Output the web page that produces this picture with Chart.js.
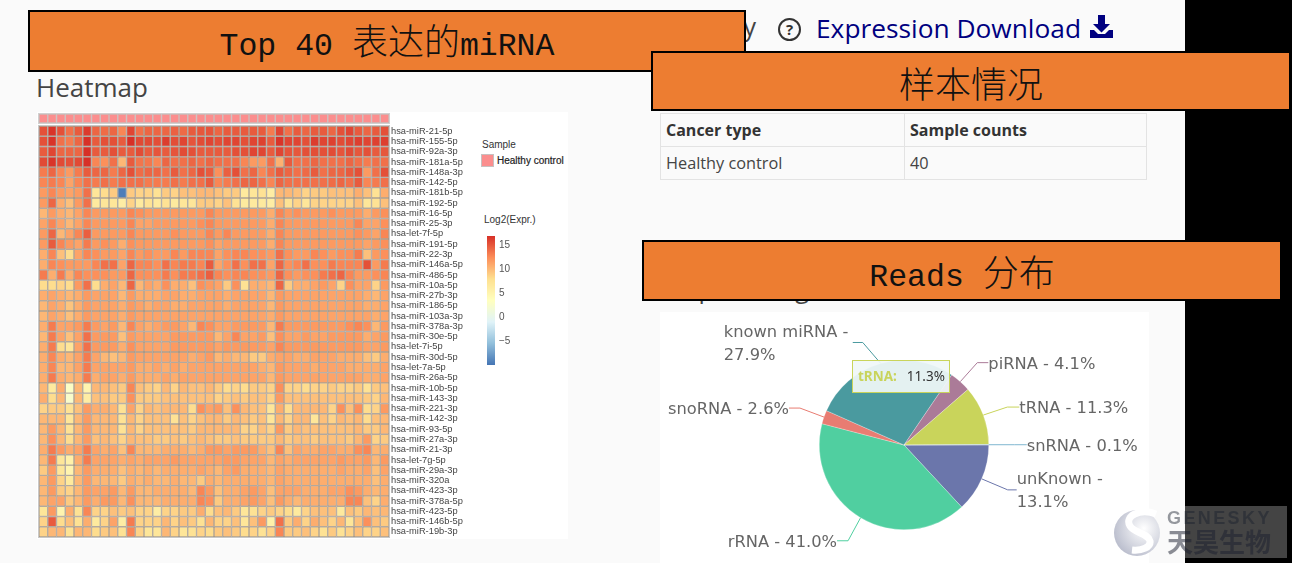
<!DOCTYPE html>
<html>
<head>
<meta charset="utf-8">
<script src="https://cdn.jsdelivr.net/npm/chart.js@4"></script>
<style>
  html, body { margin: 0; padding: 0; }
  body { width: 1292px; height: 563px; position: relative; overflow: hidden; background: #000; font-family: "Open Sans", sans-serif; }
  .abs { position: absolute; }
  #page { left: 0; top: 0; width: 1185px; height: 563px; background: #fafafa; }
  .banner { position: absolute; box-sizing: border-box; background: #ed7d31; border: 2px solid #000; color: #111; text-align: center; font-family: "Liberation Mono", "Noto Sans CJK SC", monospace; font-size: 31.5px; }
  .banner span { font-family: "Noto Sans CJK SC", sans-serif; font-size: 36px; font-weight: 300; }
  table { border-collapse: collapse; font-size: 16.3px; color: #444; table-layout: fixed; }
  td, th { border: 1px solid #e3e3e3; height: 33px; padding: 0 5px; text-align: left; box-sizing: border-box; }
  th { color: #333; font-size: 16px; }
  canvas { display: block; }
  #tip { left: 852px; top: 360px; width: 98px; height: 33px; box-sizing: border-box; background: rgba(240,247,247,.93); border: 1.5px solid #c9d45b; font: 13.5px "Noto Sans", sans-serif; line-height: 30px; padding-left: 5px; color: #333; white-space: pre; }
  #tip b { color: #c9d45b; margin-right: 3px; }
</style>
</head>
<body>
<div class="abs" id="page"></div>

<div class="abs" style="right:536px;top:9px;font-size:25px;color:#444">Summary</div>
<div class="abs" style="left:778px;top:18px;width:19px;height:19px;border:2px solid #333;border-radius:50%;text-align:center;font:bold 15px/19px 'Open Sans';color:#333">?</div>
<div class="abs" style="left:816px;top:10px;font-size:26.3px;color:#000080;white-space:nowrap">Expression Download</div>
<svg class="abs" style="left:1089px;top:15px" width="25" height="24" viewBox="0 0 25 24">
  <path d="M9 0h7v9h5l-8.500 8.500L4 9h5z M1 15h4l4 4h7l4-4h4v8H1z" fill="#000080"/>
</svg>
<div class="abs" style="left:36px;top:69px;font-size:26px;color:#444">Heatmap</div>
<div class="abs" style="left:662px;top:271px;font-size:25px;color:#444">Map reading</div>

<div class="abs" style="left:37px;top:112px;width:531px;height:427px;background:#fff"></div>
<div class="abs" style="left:660px;top:312px;width:489px;height:251px;background:#fff"></div>

<div class="abs" style="left:38px;top:113px;width:352px;height:11px;background:#d0d0d0"></div>
<div class="abs" style="left:38px;top:125px;width:352px;height:413px;background:#c8c8c8"></div>
<canvas class="abs" id="sampleBar" style="left:39px;top:114px;filter:blur(.4px)"></canvas>
<canvas class="abs" id="heatmap" style="left:39px;top:126px;filter:blur(.4px)"></canvas>
<div class="abs" style="left:482px;top:139px;font:10px 'Liberation Sans';color:#333">Sample</div>
<div class="abs" style="left:481px;top:154px;width:13px;height:13px;background:#fb8e8e;box-sizing:border-box;border:1px solid #c8c0c0"></div>
<div class="abs" style="left:497px;top:155px;font:10px 'Liberation Sans';color:#222;-webkit-text-stroke:.2px #222;white-space:nowrap">Healthy control</div>
<div class="abs" style="left:484px;top:214px;font:10px 'Liberation Sans';color:#333">Log2(Expr.)</div>
<canvas class="abs" id="colorBar" style="left:487px;top:226px;filter:blur(.3px)"></canvas>

<table class="abs" style="left:660px;top:113px;width:487px">
  <tr><th style="width:244px" id="hType"></th><th id="hCount"></th></tr>
  <tr><td id="cType"></td><td id="cCount"></td></tr>
</table>

<canvas class="abs" id="pie" style="left:660px;top:312px;filter:blur(.3px)"></canvas>
<div class="abs" id="tip"></div>

<div class="banner" style="left:28px;top:10px;width:718px;height:62px;line-height:55px">Top 40 <span>表达的</span>miRNA</div>
<div class="banner" style="left:651px;top:51px;width:640px;height:60px;line-height:58px"><span>样本情况</span></div>
<div class="banner" style="left:642px;top:240px;width:640px;height:61px;line-height:56px">Reads <span>分布</span></div>

<div class="abs" style="left:1185px;top:506px;width:102px;height:52px;background:#444"></div>
<svg class="abs" style="left:1112px;top:506px" width="52" height="52" viewBox="0 0 52 52">
  <defs><radialGradient id="ball" cx=".65" cy=".4" r=".8"><stop offset="0" stop-color="#fff"/><stop offset="1" stop-color="#aeb2c4"/></radialGradient></defs>
  <circle cx="25" cy="27" r="23" fill="url(#ball)"/>
  <path d="M44 8C28 2 12 10 18 20c4 7 18 7 20 15 1 6-8 10-18 9" fill="none" stroke="#fff" stroke-width="7"/>
</svg>
<div class="abs" style="left:1167px;top:507px;font:bold 18px/22px 'Liberation Sans';letter-spacing:2.4px;color:rgba(25,30,45,.45);white-space:nowrap">GENESKY</div>
<div class="abs" style="left:1167px;top:525px;font:700 26px/32px 'Noto Sans CJK SC';color:rgba(25,30,45,.5);white-space:nowrap">天昊生物</div>

<script>
const miRNAs = ['hsa-miR-21-5p','hsa-miR-155-5p','hsa-miR-92a-3p','hsa-miR-181a-5p','hsa-miR-148a-3p','hsa-miR-142-5p','hsa-miR-181b-5p','hsa-miR-192-5p','hsa-miR-16-5p','hsa-miR-25-3p',
  'hsa-let-7f-5p','hsa-miR-191-5p','hsa-miR-22-3p','hsa-miR-146a-5p','hsa-miR-486-5p','hsa-miR-10a-5p','hsa-miR-27b-3p','hsa-miR-186-5p','hsa-miR-103a-3p','hsa-miR-378a-3p',
  'hsa-miR-30e-5p','hsa-let-7i-5p','hsa-miR-30d-5p','hsa-let-7a-5p','hsa-miR-26a-5p','hsa-miR-10b-5p','hsa-miR-143-3p','hsa-miR-221-3p','hsa-miR-142-3p','hsa-miR-93-5p',
  'hsa-miR-27a-3p','hsa-miR-21-3p','hsa-let-7g-5p','hsa-miR-29a-3p','hsa-miR-320a','hsa-miR-423-3p','hsa-miR-378a-5p','hsa-miR-423-5p','hsa-miR-146b-5p','hsa-miR-19b-3p'];

// log2 expression, one row per miRNA, one column per sample
const exprRows = [
  [14.5,15.8,14.5,13,14,15.5,13.5,13.2,13.5,12,15,13,13.5,13.5,13.5,13.7,13.3,14,14.2,14.3,13.5,14, 14,14,14,14,12.5,15,13,14,13.5,14,14,13.5,14.5,15,14,13.5,14,14.5],
  [14.5,15.8,13,12.5,13.5,16,14,14.5,14.5,14,16,14.8,14.8,14.6,15.4,14.6,15,14.3,14.7,15,14.6,15, 15,14.5,15,15.2,14,15.8,15,15,14.5,15.4,15,15.2,14.7,15,15.3,15,15.2,15.3],
  [14,15,13.5,13.5,13.5,16,14,14,14.5,14,14,14.7,14,14.3,14,14.3,14.7,14.5,14,14,14,14, 14.5,14.5,15,15,14,15,14.3,14.2,14.5,14.6,14.5,14.7,14.3,14.8,14.2,14.5,14,14.2],
  [14.8,15.8,14.8,14.5,14.8,16.2,12,11.5,13,9.5,14,12.8,12.7,12,13.5,13,13,13.5,13,13.5,13,13, 13,12,11,11,13,9.8,14,13,13,13.5,13,13,13,13.5,13,12.5,13,13],
  [12.5,13.5,12,11,12.5,14,13.5,13.5,12.5,13.5,14.5,13.2,13.5,13.5,13,14,13,13.5,14.5,14,11.5,13.8, 14.5,13,13.5,12,13,14,13.5,13,13.3,14,13,13.5,13.5,14,14.5,11,13,14.5],
  [12,12.5,12,10.5,12,13,12.5,13,12.5,13,13,13,12.5,12.5,12.5,13,12.5,13,13,14,12,12.5, 13,13.5,13.5,13,12,13.5,13,13,13,13,13,13.2,13.5,13,14,12,12.5,13],
  [11,12,11,10.5,11,13,6.5,7.5,8.5,-9.5,8.5,8,8,7,8.5,8,9,9,9.5,9.5,9,8.5, 8.5,6,6.5,7,5.5,9.5,9.5,9,8,8.5,8.5,9,9,9,10,9,7,10],
  [11,13.5,10,9,11,13,6,6.5,6.5,5.5,8,6,7,6,7,6,6.5,6.5,8.5,8.5,8,9, 7,6,6,6,5.5,9,7,8,6.5,8,8,8,8,8,9,6.5,7,9],
  [9.5,11,10,9.5,10.5,12,11,11,11,11,12,11.5,11,11,11,11,11,11,11,12,11,11, 11,11,11,11,10,12,11,11.5,11,11,11,11.5,11,11,11,10,11,11.5],
  [10.5,12,10.5,9.5,10.5,12,11,11,11,11,12,10.5,10.5,11,11,11,11,11,11.5,12,11,11, 11,11,11,11,10,12,11,11,11,11,11,11,11,11,12,10.5,10.5,11.5],
  [11,13.5,9.5,10.5,12,13.8,11,11,11,11,12,11,11,11,11,11.5,11,11,11,12,11,12, 11,11,11,11,10,12,11,11,11,11,11,11,11,11,11.5,11,10.5,12],
  [11,14,12,11,10.5,12.5,11,11.5,11,10,11.5,11,11,11,11,11,11,11,11,11.5,10.5,11, 11,11,11,11,10,12,11,11,11,11,11,11,11,11,11,10.5,11,11.5],
  [10,12,9,7.5,10.5,12,11.5,11,11,10.5,12,11,11.5,11,11,12,11,12,12,12,10.5,11.5, 12,12,11.5,11.5,11,13,11.5,11,11,12,11.5,11,11.5,11.5,12.5,9,11,11.5],
  [10,12,11.5,11,11,11,12,13,13,10.5,13.5,12,12,11.5,13,12,12.5,12.5,12,14,10.5,11.5, 13,11.5,13,13,10.5,13.5,11.5,12,13,11.5,11.5,12.5,12,12,12,14.5,11,12.5],
  [12.5,10,12.5,10,12,11.5,11.5,11.5,11,11,13.5,11.5,11.5,11.5,12.5,11.5,12.5,12.5,13,13.8,12,11.5, 12,12,11.5,11.5,11,13.5,11.5,11,11.5,11.5,12.5,13,13.5,12,11,11,11.5,12],
  [7.5,7.5,8,7.5,11,13,7.5,10,10.5,9.5,13.5,9.5,10.5,10,11.5,10,10,9,11.5,11,10.5,8.5, 11.5,7,10,10,9.5,13.5,8.5,10,10,10.5,11,10.5,8,11.5,10.5,10.5,8,11],
  [10,10.5,10,9.5,10,11,10.5,10.5,10.5,9.5,11,10,10,10,10.5,10.5,10,10,10.5,10.5,10.5,10, 10.5,10.5,10.5,10.5,9.5,11,10.5,10.5,10.5,10.5,10.5,10.5,10.5,10.5,10.5,10,9.5,10.5],
  [9.5,10.5,10,8.8,10,11,10.5,10.5,10.5,10,11,10.5,10,10.5,10.5,10,10,10.5,10.5,10.5,10.5,10, 10.5,10.5,10.5,10.5,9.5,11,10.5,10.5,10.5,10.5,10.5,10.5,10.5,10.5,10.5,10,10,10.5],
  [9.5,10.5,10,9,10,11,10.5,10.5,10.5,10,11,10.5,10.5,10.5,10.5,10.5,10.5,10.5,10.5,10.5,10.5,10.5, 10.5,10.5,10.5,10.5,10,11,10.5,10.5,10.5,10.5,10.5,10.5,10.5,10.5,10.5,10.5,10,10.5],
  [10,12.5,10.5,10.5,11,12.5,11,10.5,11,9.5,12,10.5,10,10.5,11,11,10.5,9.5,12,11.5,10.5,10.5, 11,11,11,11,9.5,12.5,11,11,11,11,11,11,11,11.5,12,11.5,9.5,11],
  [9.5,12.5,10.5,9,10.5,13,11,11,11,9,11,10.5,10.5,10.5,10.5,11,11,11,11,11,9.5,10.5, 12,10.5,10.5,11,9,11.5,10.5,10.5,11,10.5,10.5,11,11,11,11,10,10.5,11],
  [10,12.5,7.5,6.5,10.5,13,11,11,11,10,11.5,10.5,10.5,10.5,10.5,11,11,11,11,11,10.5,11, 11,11,11,11,10.5,12,11,11,11,11,11,11,11,11,11,10.5,10.5,11],
  [10,12,10,9.5,10.5,12.5,10.5,9.5,9,9.5,11,10.5,10.5,10.5,10.5,10.5,10.5,10,10.5,11,9.5,10, 9.5,9.5,8.5,8.5,10,10.5,10.5,10,10,10.5,10.5,10.5,10,10,10,9,8.5,10],
  [10,12,9.5,9.5,10.5,12.5,10.5,10.5,10.5,10.5,11,10,10,10.5,10,10.5,10,10.5,10.5,10.5,10.5,10.5, 10.5,10.5,10.5,10,9.5,11,10.5,10.5,10.5,10,10.5,10.5,10.5,10,10,10,10,10.5],
  [10,12.5,10,9.5,10,12.5,10,10.5,10.5,10,11,10,10,10,10.5,10,10.5,10.5,10.5,10.5,10.5,10.5, 10.5,10.5,10.5,10.5,9.5,11,10.5,10.5,10.5,10.5,10.5,10.5,10.5,10.5,10.5,10,10,10.5],
  [9.5,6,10,2.5,9.5,4.5,9.5,9.5,9,8.5,12,9,8.5,8,9.5,8,9.5,9,9,9.5,8.5,7.5, 8,7.5,8.5,8.5,8,11.5,8,8,7.5,8,8,8.5,8,8,8.5,7,8.5,9],
  [10,7.5,9.5,2,9.5,5.5,9,9,8.5,8.5,11.5,8.5,8.5,8.5,9,9,9,9,9,9,8,8.5, 9,8.5,9,9,8,11,9,9,9,9,9,9,9,9,9,8.5,8,9.5],
  [8,8.5,8.5,7,9,11,10,10,9.5,7,10.5,8,9.5,9,9.5,9.5,9.5,7.5,11.5,10.5,11,9, 11.5,9.5,9,9,6.5,10,7.5,9.5,9.5,9.5,9.5,8,11.5,9,11.5,7.5,8,11],
  [9.5,9.5,9.5,6.5,9.5,11,9.5,9.5,9.5,7,9.5,8,9,9,9,7,9,8,9,9.5,9.5,8.5, 9.5,9,8.5,9,6.5,9.5,8,9.5,9.5,6.5,9,8,9.5,9,9.5,7.5,9,9.5],
  [9.5,11,9.5,7,9.5,11,9.5,9.5,9.5,7,9.5,8,9,9,9,9,9,8.5,9.5,9.5,9.5,9.5, 9.5,8,8,9,8,11,8.5,9.5,9,9,9,9,9,9,9.5,8.5,8.5,9.5],
  [9.5,11.5,9.5,7.5,9.5,11,9,9.5,9,8,9.5,9,9,8.5,8.5,9,8.5,9,9.5,9,8.5,8.5, 9,8.5,8.5,8.5,8.5,9.5,8.5,9,9,8.5,9,9,9,8.5,9.5,11,8,8.5],
  [10,12.5,11,10,10.5,12.5,10.5,10,10.5,9,12,9.5,9.5,9.5,10,10,10,9.5,10,11,11,10.5, 11,11,11,10,9,12,9,10.5,10,10,10.5,10.5,10,10,11.5,12,9.5,10],
  [9.5,12.5,6.5,5,10,12.5,10.5,10.5,10.5,10,10.5,10,10.5,10.5,10.5,11,10.5,10.5,10.5,10.5,10.5,11, 11,10.5,10.5,10.5,9.5,10.5,10,10.5,10.5,10.5,10.5,10.5,11,10.5,10.5,11,9.5,11],
  [8.5,11,6.5,4.5,9.5,11,10,10,10,9,10,9.5,10,9.5,10,10,10,10,10.5,10,9.5,10.5, 11,10,10,10,9.5,10.5,10,10,10,10,10,10,10.5,10,10,10.5,9,10.5],
  [9.5,11,8,6,9.5,11,9.5,9.5,9.5,8.5,10,9.5,10,9.5,9.5,10,9.5,9.5,8.5,10,9.5,10, 10,10,10,10,9.5,10.5,10,10,10,10,10,10,10,10,10,10,9,10],
  [9.5,11,8.5,8,9.5,11,10.5,10.5,11,9.5,11,9.5,9.5,10,10,10,10,9.5,12,11,9,10, 10,10.5,11,10.5,9,10.5,10.5,10.5,10,10,10,10.5,10.5,11.5,11,10,9.5,10],
  [9.5,10.5,10.5,8.5,9.5,11,10,11,11,9.5,11.5,9.5,9.5,9.5,10,10,10,10,12,11.5,8.5,10, 10,10.5,11,10.5,9,11,10,9.5,10,10,10,10,10,12,12,9,8,10],
  [6.5,11,4.5,10,7,12,8,8,9,8.5,9,8,8,5.5,8,8,8.5,8.5,10,7.5,9,9.5, 8.5,6.5,7,8,8.5,8,7.5,6,8,9,9,9,6,9,8.5,9.5,9,9.5],
  [8,14,7.5,9,7,10,6,8,10.5,5.5,12.5,8,8,8,9.5,8,9,8.5,7,9.5,8,8, 9,6.5,9,11,5,13,8.5,10,8,10,9,8,9.5,6.5,9,11.5,9,8.5],
  [8,9.5,9.5,7,9.5,9.5,7.5,8.5,9,7,12,8,6.5,6.5,9.5,8,6.5,7,8,7.5,8.5,9, 8.5,7.5,8,7,8,12,8.5,8.5,9,8,7,8.5,7,8,9,8,8,9]
];

const colourStops = ['#4575b4','#91bfdb','#e0f3f8','#ffffbf','#fee090','#fc8d59','#d73027'];
const colourMin = -10, colourMax = 16.9, cellColourMax = 16;
const legendTicks = [-5, 0, 5, 10, 15];
const sampleColour = '#fb8e8e';

const sampleHeaders = ['Cancer type', 'Sample counts'];
const sampleTypes = ['Healthy control'];
const sampleCounts = [40];

const rnaTypes = ['unKnown', 'rRNA', 'snoRNA', 'known miRNA', 'piRNA', 'tRNA', 'snRNA'];
const rnaShares = [13.1, 41.0, 2.6, 27.9, 4.1, 11.3, 0.1];
const rnaColours = ['#6b76ab', '#50cfa0', '#e87c72', '#4a9a9f', '#ab7b98', '#c9d45b', '#7fb6d0'];
// label line per slice: elbow offset from the slice edge, run of the last segment, text shift for wrapped labels
const rnaLeaders = [
  { dx: 26, dy: 11, run: 9, wrap: true },
  { dx: -12.5, dy: 23, run: -11 },
  { dx: -24, dy: -9, run: -11 },
  { dx: -18, dy: -21, run: -10, wrap: true, shift: 129 },
  { dx: 17, dy: -19, run: 11 },
  { dx: 24, dy: -8, run: 12 },
  { dx: 26, dy: 0, run: 12 }
];
const tipType = 'tRNA';

function hex(c) { return [1, 3, 5].map(i => parseInt(c.substr(i, 2), 16)); }
function heatColour(v) {
  const t = Math.min(0.9999, Math.max(0, (v - colourMin) / (cellColourMax - colourMin))) * (colourStops.length - 1);
  const i = Math.floor(t), a = hex(colourStops[i]), b = hex(colourStops[i + 1]);
  return 'rgb(' + a.map((x, k) => Math.round(x + (b[k] - x) * (t - i))).join(',') + ')';
}

// rows of equal-width stacked bars, one dataset per sample column
function cellChart(id, width, height, rowLabels, colourAt, labelWidth, lineColour) {
  const canvas = document.getElementById(id);
  const nCols = exprRows[0].length;
  canvas.style.width = width + 'px';
  canvas.style.height = height + 'px';
  const datasets = [];
  for (let c = 0; c < nCols; c++) {
    datasets.push({
      data: rowLabels.map(() => 1),
      backgroundColor: rowLabels.map((_, r) => colourAt(r, c)),
      borderColor: lineColour,
      borderWidth: 0.7,
      borderSkipped: false,
      inflateAmount: 0,
      barPercentage: 1,
      categoryPercentage: 1
    });
  }
  return new Chart(canvas, {
    type: 'bar',
    data: { labels: rowLabels, datasets },
    options: {
      indexAxis: 'y',
      responsive: false,
      animation: false,
      layout: { padding: 0, autoPadding: false },
      plugins: { legend: { display: false }, tooltip: { enabled: false } },
      scales: {
        x: { stacked: true, display: false, min: 0, max: nCols },
        y: {
          stacked: true,
          display: labelWidth > 0,
          position: 'right',
          grid: { display: false, drawTicks: false },
          border: { display: false },
          // no room kept for half a label above and below the rows
          afterFit: s => { s.width = labelWidth; s.paddingTop = 0; s.paddingBottom = 0; },
          ticks: { autoSkip: false, padding: 2, color: '#444', font: { family: 'Liberation Sans', size: 9.3 } }
        }
      }
    }
  });
}

// canvas size has to be set before the chart reads it
['sampleBar:350:9', 'heatmap:425:411', 'colorBar:40:150', 'pie:489:251'].forEach(s => {
  const [id, w, h] = s.split(':');
  const c = document.getElementById(id);
  c.width = +w; c.height = +h;
});

cellChart('sampleBar', 350, 9, ['Sample'], () => sampleColour, 0, '#c9b4b0');
cellChart('heatmap', 425, 411, miRNAs, (r, c) => heatColour(exprRows[r][c]), 75, '#a39584');

new Chart(document.getElementById('colorBar'), {
  type: 'bar',
  data: {
    labels: ['Log2(Expr.)'],
    datasets: [{
      data: [[colourMin, colourMax]],
      barPercentage: 1,
      categoryPercentage: 1,
      backgroundColor: ctx => {
        const area = ctx.chart.chartArea;
        if (!area) return colourStops[0];
        const g = ctx.chart.ctx.createLinearGradient(0, area.bottom, 0, area.top);
        colourStops.forEach((col, i) => g.addColorStop(i / (colourStops.length - 1), col));
        return g;
      }
    }]
  },
  options: {
    responsive: false,
    animation: false,
    layout: { padding: { top: 10, bottom: 11 } },
    plugins: { legend: { display: false }, tooltip: { enabled: false } },
    scales: {
      x: { display: false },
      y: {
        position: 'right',
        min: colourMin,
        max: colourMax,
        grid: { display: false, drawTicks: false },
        border: { display: false },
        afterBuildTicks: s => { s.ticks = legendTicks.map(value => ({ value })); },
        afterFit: s => { s.width = 32; },
        ticks: { padding: 4, color: '#555', font: { family: 'Liberation Sans', size: 10 }, callback: v => String(v).replace('-', '\u2212') }
      }
    }
  }
});

// echarts style outside labels with a two-segment line
const pieLabels = {
  id: 'pieLabels',
  afterDatasetsDraw(chart) {
    const c = chart.ctx;
    chart.getDatasetMeta(0).data.forEach((arc, i) => {
      const mid = (arc.startAngle + arc.endAngle) / 2;
      const ex = arc.x + Math.cos(mid) * arc.outerRadius;
      const ey = arc.y + Math.sin(mid) * arc.outerRadius;
      const l = rnaLeaders[i];
      const ax = ex + l.dx, ay = ey + l.dy, tx = ax + l.run;
      c.save();
      c.strokeStyle = rnaColours[i];
      c.lineWidth = 1;
      c.beginPath();
      c.moveTo(ex, ey);
      c.lineTo(ax, ay);
      c.lineTo(tx, ay);
      c.stroke();
      c.fillStyle = '#666';
      c.font = '16.3px "DejaVu Sans"';
      c.textBaseline = 'middle';
      const pct = rnaShares[i].toFixed(1) + '%';
      if (l.wrap) {
        c.textAlign = 'left';
        const x = l.shift ? tx - l.shift : tx;
        c.fillText(rnaTypes[i] + ' -', x, ay - 10);
        c.fillText(pct, x, ay + 13);
      } else {
        c.textAlign = l.run < 0 ? 'right' : 'left';
        c.fillText(rnaTypes[i] + ' - ' + pct, tx, ay + 2);
      }
      c.restore();
    });
  }
};

new Chart(document.getElementById('pie'), {
  type: 'pie',
  data: {
    labels: rnaTypes,
    datasets: [{ data: rnaShares, backgroundColor: rnaColours, borderWidth: 0.5, borderColor: 'rgba(255,255,255,.5)' }]
  },
  options: {
    responsive: false,
    animation: false,
    rotation: 90,
    layout: { padding: { left: 159, right: 160, top: 48, bottom: 33 } },
    plugins: { legend: { display: false }, tooltip: { enabled: false } }
  },
  plugins: [pieLabels]
});

document.getElementById('hType').textContent = sampleHeaders[0];
document.getElementById('hCount').textContent = sampleHeaders[1];
document.getElementById('cType').textContent = sampleTypes[0];
document.getElementById('cCount').textContent = sampleCounts[0];

const tip = document.getElementById('tip');
tip.innerHTML = '<b>' + tipType + ':</b>  ' + rnaShares[rnaTypes.indexOf(tipType)].toFixed(1) + '%';
</script>
</body>
</html>
